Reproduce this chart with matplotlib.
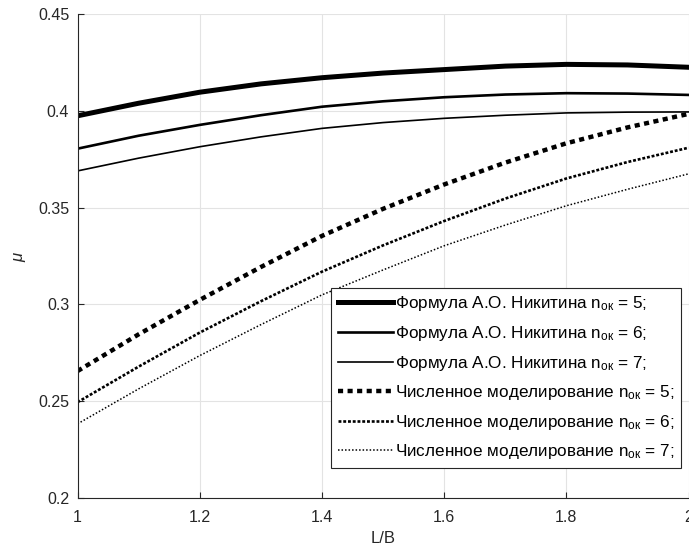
import matplotlib
matplotlib.use('Agg')
import matplotlib.pyplot as plt

plt.rcParams['font.family'] = ['Liberation Sans', 'DejaVu Sans']
plt.rcParams['mathtext.fontset'] = 'custom'
plt.rcParams['mathtext.rm'] = 'Liberation Sans'
plt.rcParams['mathtext.it'] = 'Liberation Sans:italic'

# L/B values
lb = [1.0, 1.1, 1.2, 1.3, 1.4, 1.5, 1.6, 1.7, 1.8, 1.9, 2.0]

# Formula A.O. Nikitin
mu_f5 = [0.3975, 0.4040, 0.4097, 0.4140, 0.4172, 0.4196, 0.4214, 0.4232, 0.4241, 0.4238, 0.4226]
mu_f6 = [0.3805, 0.3872, 0.3928, 0.3978, 0.4022, 0.4050, 0.4071, 0.4085, 0.4092, 0.4090, 0.4083]
mu_f7 = [0.3690, 0.3756, 0.3815, 0.3866, 0.3910, 0.3940, 0.3962, 0.3978, 0.3990, 0.3994, 0.3995]

# numerical modelling
mu_n5 = [0.2655, 0.2845, 0.3023, 0.3193, 0.3354, 0.3494, 0.3620, 0.3733, 0.3833, 0.3915, 0.3985]
mu_n6 = [0.2494, 0.2678, 0.2854, 0.3016, 0.3169, 0.3305, 0.3431, 0.3547, 0.3651, 0.3736, 0.3810]
mu_n7 = [0.2382, 0.2563, 0.2735, 0.2895, 0.3049, 0.3178, 0.3303, 0.3410, 0.3510, 0.3595, 0.3675]

labels = [
    'Формула А.О. Никитина n$_{\\mathrm{ок}}$ = 5;',
    'Формула А.О. Никитина n$_{\\mathrm{ок}}$ = 6;',
    'Формула А.О. Никитина n$_{\\mathrm{ок}}$ = 7;',
    'Численное моделирование n$_{\\mathrm{ок}}$ = 5;',
    'Численное моделирование n$_{\\mathrm{ок}}$ = 6;',
    'Численное моделирование n$_{\\mathrm{ок}}$ = 7;',
]

fig = plt.figure(figsize=(6.89, 5.58), dpi=100)
ax = fig.add_axes([0.1125, 0.108, 0.887, 0.8664])

ax.plot(lb, mu_f5, color='black', lw=3.6, label=labels[0])
ax.plot(lb, mu_f6, color='black', lw=1.9, label=labels[1])
ax.plot(lb, mu_f7, color='black', lw=1.2, label=labels[2])
ax.plot(lb, mu_n5, color='black', lw=3.2, linestyle=(0, (1.15, 1.0)), label=labels[3])
ax.plot(lb, mu_n6, color='black', lw=1.9, linestyle=(0, (1.1, 0.7)), label=labels[4])
ax.plot(lb, mu_n7, color='black', lw=1.1, linestyle=(0, (1.0, 1.3)), label=labels[5])

ax.set_xlim(1, 2)
ax.set_ylim(0.2, 0.45)
ax.set_xticks([1, 1.2, 1.4, 1.6, 1.8, 2])
ax.set_xticklabels(['1', '1.2', '1.4', '1.6', '1.8', '2'])
ax.set_yticks([0.2, 0.25, 0.3, 0.35, 0.4, 0.45])
ax.set_yticklabels(['0.2', '0.25', '0.3', '0.35', '0.4', '0.45'])
ax.grid(True, color='#e3e3e3', lw=0.8)
ax.set_axisbelow(True)

for s in ['top', 'right']:
    ax.spines[s].set_visible(False)
for s in ['left', 'bottom']:
    ax.spines[s].set_color('#262626')
    ax.spines[s].set_linewidth(0.8)
ax.tick_params(direction='in', length=4, width=0.8, colors='#262626', labelsize=11.5)
ax.tick_params(axis='x', pad=9)
ax.tick_params(axis='y', pad=6)

ax.set_xlabel('L/B', fontsize=12, color='#262626', labelpad=4)
ax.set_ylabel('$\\mu$', fontsize=12, color='#262626', labelpad=7)

leg = ax.legend(loc='lower left', bbox_to_anchor=(0.415, 0.061), fontsize=12.3,
                frameon=True, fancybox=False, edgecolor='#262626', framealpha=1,
                handlelength=3.2, handletextpad=0.15, labelspacing=0.62,
                borderpad=0.4, borderaxespad=0)
leg.get_frame().set_linewidth(0.8)

fig.savefig('out.png', dpi=100)
